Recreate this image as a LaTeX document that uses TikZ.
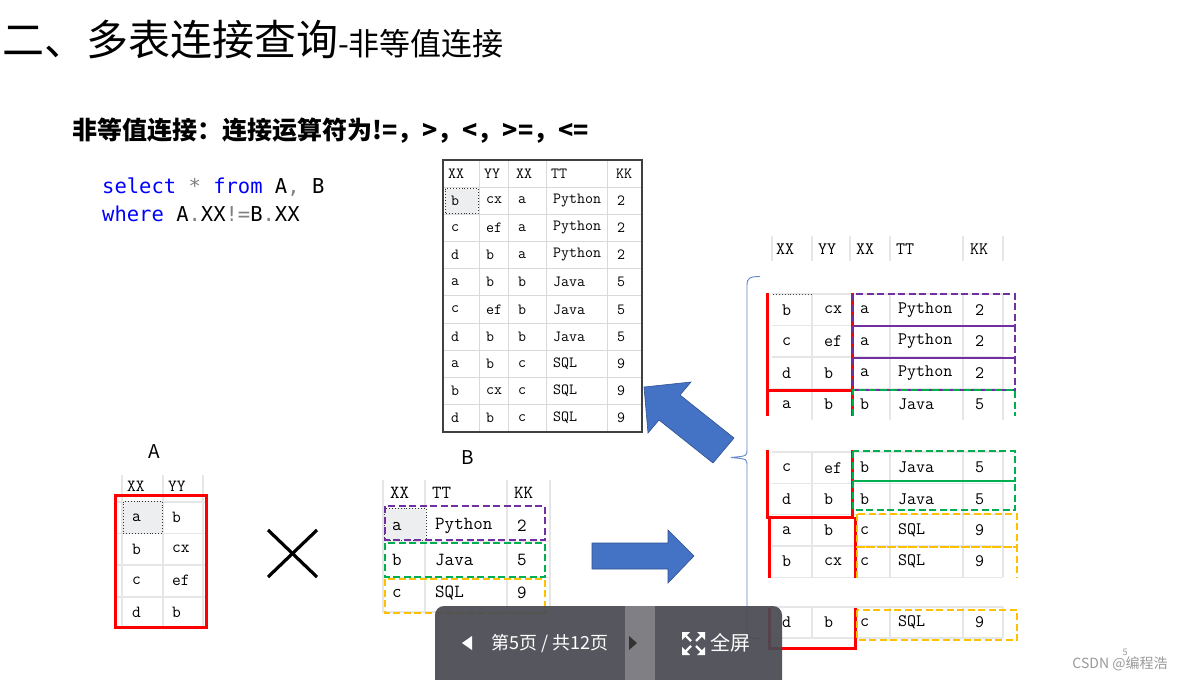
\documentclass[tikz,border=0pt]{standalone}
\usepackage{fontspec}
\newfontfamily\cjk{Noto Sans CJK SC}
\newfontfamily\codefont{DejaVu Sans Mono}

\definecolor{arrowblue}{HTML}{4472C4}
\definecolor{arrowedge}{HTML}{2F528F}
\definecolor{gridgray}{HTML}{E6E6E6}
\definecolor{topgrid}{HTML}{D9D9D9}
\definecolor{selgray}{HTML}{ECEEF0}
\definecolor{jpurple}{HTML}{7030A0}
\definecolor{jgreen}{HTML}{00B050}
\definecolor{jyellow}{HTML}{FFC000}
\definecolor{kwblue}{HTML}{0000FF}
\definecolor{barbg}{HTML}{4A4A52}
\definecolor{barmid}{HTML}{808084}
\definecolor{markgray}{HTML}{9A9A9A}

\tikzset{
  topcell/.style={inner sep=0pt, anchor=west, font=\ttfamily\fontsize{15.5}{15.5}\selectfont},
  acell/.style={inner sep=0pt, anchor=west, font=\ttfamily\fontsize{17}{17}\selectfont},
  bcell/.style={inner sep=0pt, anchor=west, font=\ttfamily\fontsize{18.5}{18.5}\selectfont},
  rescell/.style={inner sep=0pt, anchor=west, font=\ttfamily\fontsize{17.5}{17.5}\selectfont},
  grid/.style={gridgray, line width=1.2pt},
  redline/.style={red, line width=3pt},
  pbox/.style={jpurple, line width=2.3pt, dash pattern=on 7pt off 3.5pt},
  gbox/.style={jgreen, line width=2.3pt, dash pattern=on 7pt off 3.5pt},
  ybox/.style={jyellow, line width=2.3pt, dash pattern=on 7pt off 3.5pt},
  selcell/.style={draw=black!80, dotted, fill=selgray, line width=0.9pt},
  blockarrow/.style={fill=arrowblue, draw=arrowedge, line width=0.6pt}
}

\begin{document}
\begin{tikzpicture}[x=1pt, y=-1pt]
\useasboundingbox (0,0) rectangle (1186,680);
\fill[white] (0,0) rectangle (1186,680);

% titles
\node[anchor=west, inner sep=0pt] (title) at (2,40)
  {\cjk\fontsize{42}{42}\selectfont 二、多表连接查询{\fontsize{31}{31}\selectfont -非等值连接}};
\node[anchor=west, inner sep=0pt] (subtitle) at (72,131)
  {\cjk\bfseries\fontsize{25}{25}\selectfont 非等值连接：连接运算符为!=，>，<，>=，<=};

% sql
\node[anchor=west, inner sep=0pt, font=\codefont\fontsize{20.5}{20.5}\selectfont] (sql1) at (102,187)
  {\textcolor{kwblue}{select} \textcolor{gray}{*} \textcolor{kwblue}{from} A\textcolor{gray}{,} B};
\node[anchor=west, inner sep=0pt, font=\codefont\fontsize{20.5}{20.5}\selectfont] (sql2) at (102,214)
  {\textcolor{kwblue}{where} A\textcolor{gray}{.}XX\textcolor{gray}{!=}B\textcolor{gray}{.}XX};

% ---------------- table of the result (top)
\foreach \y in {0,...,8}
  \draw[topgrid, line width=1pt] (443,{187+27.2*\y}) -- (642,{187+27.2*\y});
\foreach \x in {479,508,546,607}
  \draw[topgrid, line width=1pt] (\x,160) -- (\x,432);
\draw[selcell] (445,188.5) rectangle (478,213.5);
\draw[black!75, line width=1.2pt] (443,160) rectangle (642,432);
\foreach \h/\x [count=\j] in {XX/448, YY/484, XX/516, TT/551, KK/616}
  \node[topcell] (top-0-\j) at (\x,173.5) {\h};
\foreach \ca/\cb/\cc/\cd/\ce [count=\i] in {b/cx/a/Python/2, c/ef/a/Python/2, d/b/a/Python/2,
    a/b/b/Java/5, c/ef/b/Java/5, d/b/b/Java/5, a/b/c/SQL/9, b/cx/c/SQL/9, d/b/c/SQL/9}{
  \pgfmathsetmacro{\ry}{173.4+27.2*\i}
  \node[topcell] (top-\i-1) at (451,\ry) {\ca};
  \node[topcell] (top-\i-2) at (486,\ry) {\cb};
  \node[topcell] (top-\i-3) at (518,\ry) {\cc};
  \node[topcell] (top-\i-4) at (553,\ry) {\cd};
  \node[topcell] (top-\i-5) at (617,\ry) {\ce};
}

% ---------------- table A
\node[inner sep=0pt, font=\cjk\fontsize{19}{19}\selectfont] (labelA) at (154,452) {A};
\foreach \x in {122,163,203}
  \draw[grid] (\x,475) -- (\x,627);
\foreach \y in {502,533.5,565,597}
  \draw[grid] (115,\y) -- (206,\y);
\draw[selcell] (123,501.5) rectangle (162.5,533);
\node[acell] (tabA-0-1) at (127,486) {XX};
\node[acell] (tabA-0-2) at (168,486) {YY};
\foreach \ca/\cb [count=\i] in {a/b, b/cx, c/ef, d/b}{
  \pgfmathsetmacro{\ry}{486+31.5*\i}
  \node[acell] (tabA-\i-1) at (132,\ry) {\ca};
  \node[acell] (tabA-\i-2) at (172,\ry) {\cb};
}
\draw[redline] (115,495) rectangle (206,627);

% cross
\draw[line width=3.2pt] (268,530) -- (317,577);
\draw[line width=3.2pt] (268,577) -- (317,530);

% ---------------- table B
\node[inner sep=0pt, font=\cjk\fontsize{19}{19}\selectfont] (labelB) at (468,458) {B};
\foreach \x in {383,425,507,550}
  \draw[grid] (\x,480) -- (\x,613);
\foreach \y in {541.5,577.5,612}
  \draw[grid] (383,\y) -- (550,\y);
\draw[selcell] (384,508) rectangle (426,540);
\foreach \h/\x [count=\j] in {XX/390, TT/432, KK/514}
  \node[bcell] (tabB-0-\j) at (\x,493) {\h};
\foreach \ca/\cb/\cc [count=\i] in {a/Python/2, b/Java/5, c/SQL/9}{
  \pgfmathsetmacro{\ry}{492.5+33.5*\i}
  \node[bcell] (tabB-\i-1) at (392,\ry) {\ca};
  \node[bcell] (tabB-\i-2) at (435,\ry) {\cb};
  \node[bcell] (tabB-\i-3) at (517,\ry) {\cc};
}
\draw[pbox] (385,506) rectangle (545,540);
\draw[gbox] (385,543) rectangle (545,577);
\draw[ybox] (385,579) rectangle (545,613);

% block arrows
\draw[blockarrow] (592,543) -- (668,543) -- (668,530) -- (694,556) -- (668,583)
  -- (668,569) -- (592,569) -- cycle;
\draw[blockarrow] (644,387) -- (691,382) -- (680,395) -- (734,438) -- (713,463)
  -- (659,420) -- (648,433) -- cycle;

% ---------------- result after the join (right)
\foreach \x in {772,812,850,890,963,1003}
  \draw[grid] (\x,236) -- (\x,261);
\foreach \h/\x [count=\j] in {XX/776, YY/818, XX/856, TT/896, KK/970}
  \node[rescell] (res-0-\j) at (\x,249) {\h};

% brace
\draw[arrowblue!85, line width=0.9pt] (760,276.5) .. controls (750,276.5) and (747,278) .. (747,285)
  -- (747,450) .. controls (747,456) .. (731,457.5) .. controls (747,459) .. (747,465)
  -- (747,631) .. controls (747,637) and (750,638.5) .. (760,638.5);

% grid of the three groups
\foreach \top/\bot in {294/420, 452/577.2, 607/638}{
  \foreach \x in {812,890,963,1003}
    \draw[grid] (\x,\top) -- (\x,\bot);
}
\foreach \y in {294,325.5,357,388.5,452,483.3,514.6,545.9,577.2,607,638}
  \draw[grid] (772,\y) -- (1003,\y);
\draw[black!70, dotted, line width=0.9pt] (773,294) -- (812,294);

\foreach \ca/\cb/\cc/\cd/\ce [count=\i] in {b/cx/a/Python/2, c/ef/a/Python/2, d/b/a/Python/2, a/b/b/Java/5}{
  \pgfmathsetmacro{\ry}{278.5+31.5*\i}
  \node[rescell] (resA-\i-1) at (782,\ry) {\ca};
  \node[rescell] (resA-\i-2) at (824,\ry) {\cb};
  \node[rescell] (resA-\i-3) at (860,\ry) {\cc};
  \node[rescell] (resA-\i-4) at (898,\ry) {\cd};
  \node[rescell] (resA-\i-5) at (975,\ry) {\ce};
}
\foreach \ca/\cb/\cc/\cd/\ce [count=\i] in {c/ef/b/Java/5, d/b/b/Java/5, a/b/c/SQL/9, b/cx/c/SQL/9}{
  \pgfmathsetmacro{\ry}{436.4+31.3*\i}
  \node[rescell] (resB-\i-1) at (782,\ry) {\ca};
  \node[rescell] (resB-\i-2) at (824,\ry) {\cb};
  \node[rescell] (resB-\i-3) at (860,\ry) {\cc};
  \node[rescell] (resB-\i-4) at (898,\ry) {\cd};
  \node[rescell] (resB-\i-5) at (975,\ry) {\ce};
}
\node[rescell] (resC-1-1) at (782,622.5) {d};
\node[rescell] (resC-1-2) at (824,622.5) {b};
\node[rescell] (resC-1-3) at (860,622.5) {c};
\node[rescell] (resC-1-4) at (898,622.5) {SQL};
\node[rescell] (resC-1-5) at (975,622.5) {9};

% red frames of the rows of A
\draw[redline] (767,293) -- (767,416);
\draw[redline] (767,390) -- (852,390);
\draw[redline] (852,293) -- (852,416);
\draw[redline] (767,450) -- (767,517) -- (852,517) -- (852,450);
\draw[redline] (769,517) -- (769,578);
\draw[redline] (855,517) -- (855,578);
\draw[redline] (769,608) -- (769,648) -- (855,648) -- (855,608);

% dashed frames of the rows of B
\draw[pbox] (853,294) rectangle (1015,326);
\draw[pbox] (853,326) rectangle (1015,358);
\draw[pbox] (853,358) rectangle (1015,390);
\draw[gbox] (853,416) -- (853,390) -- (1015,390) -- (1015,416);
\draw[gbox] (853,451) rectangle (1015,481);
\draw[gbox] (853,481) rectangle (1015,510);
\draw[ybox] (857,514) rectangle (1017,547);
\draw[ybox] (857,578) -- (857,547) -- (1017,547) -- (1017,578);
\draw[ybox] (857,610) rectangle (1017,640);

% page bar
\begin{scope}
\clip (0,0) rectangle (1186,680);
\fill[barbg, fill opacity=0.93, rounded corners=9pt] (435,606) rectangle (782,700);
\fill[barmid] (625,606) rectangle (655,680);
\end{scope}
\fill[white] (472,636) -- (472,650) -- (462,643) -- cycle;
\node[text=white, inner sep=0pt, font=\cjk\fontsize{18}{18}\selectfont] (pageno) at (550,643) {第5页 / 共12页};
\fill[black!80] (629,636) -- (629,650) -- (637,643) -- cycle;
\begin{scope}[white, line width=2.4pt]
  \fill (682,632) -- (690,632) -- (682,640) -- cycle;
  \draw (684,634) -- (691,641);
  \fill (705,632) -- (697,632) -- (705,640) -- cycle;
  \draw (703,634) -- (696,641);
  \fill (682,655) -- (690,655) -- (682,647) -- cycle;
  \draw (684,653) -- (691,646);
  \fill (705,655) -- (697,655) -- (705,647) -- cycle;
  \draw (703,653) -- (696,646);
\end{scope}
\node[text=white, inner sep=0pt, font=\cjk\fontsize{20}{20}\selectfont] (fullscr) at (730,643) {全屏};

% watermark
\node[text=markgray, inner sep=0pt, font=\cjk\fontsize{9}{9}\selectfont] (slideno) at (1125,652) {5};
\node[text=markgray, inner sep=0pt, font=\cjk\fontsize{14}{14}\selectfont] (mark) at (1120,664) {CSDN @编程浩};
\end{tikzpicture}
\end{document}
